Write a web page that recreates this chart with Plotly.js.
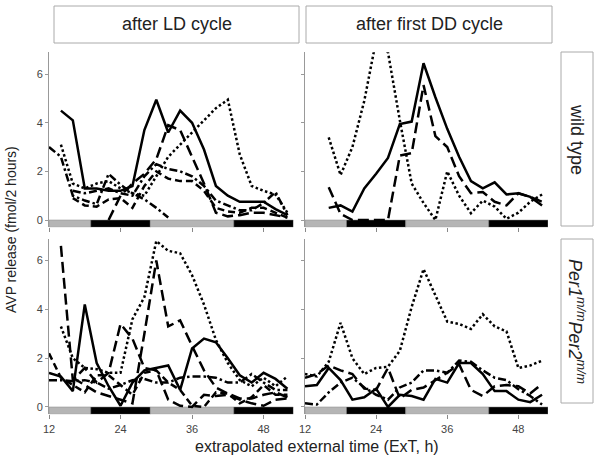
<!DOCTYPE html>
<html><head><meta charset="utf-8">
<script src="https://cdn.plot.ly/plotly-3.0.1.min.js"></script>
<style>html,body{margin:0;padding:0;background:#fff}#chart{width:600px;height:459px}</style>
</head><body><div id="chart"></div>
<script>
// Sampling times (ExT, h)
const hours = [12,14,16,18,20,22,24,26,28,30,32,34,36,38,40,42,44,46,48,50,52];
const xTicks = [12,24,36,48];
const yTicks = [0,2,4,6];
const colTitles = ['after LD cycle','after first DD cycle'];
const rowTitles = ['wild type','<i>Per1</i><sup><i>m/m</i></sup><i>Per2</i><sup><i>m/m</i></sup>'];
const yTitle = 'AVP release (fmol/2 hours)';
const xTitle = 'extrapolated external time (ExT, h)';

// Light/dark bars
const phaseStart = [12,19,29,43];
const phaseEnd   = [19,29,43,53];
const phaseType  = ['light','dark','light','dark'];

// wild type, after LD cycle
const wtLD_solid    = [null,4.5,4.1,1.3,1.3,1.2,1.2,1.4,3.7,4.95,3.6,4.5,4.0,2.9,1.4,1.0,0.75,0.75,0.75,0.45,0.2];
const wtLD_dot      = [null,3.1,1.5,1.3,1.5,1.6,1.3,1.1,1.0,1.8,2.6,3.1,3.6,4.1,4.6,4.95,2.7,1.4,1.2,1.05,0.3];
const wtLD_longdash = [null,null,null,null,null,0.0,1.0,1.5,1.9,2.5,3.9,3.7,2.6,1.5,0.3,0.15,0.2,0.3,0.3,0.2,0.1];
const wtLD_dash     = [null,null,0.9,0.6,0.55,0.85,0.9,0.5,1.4,2.0,1.7,1.6,1.6,1.2,0.5,0.35,0.3,0.5,0.5,0.3,0.1];
const wtLD_dashdotA = [3.0,2.6,1.0,0.8,0.65,1.9,1.45,1.1,0.85,0.5,0.1,null,null,null,null,null,null,null,null,null,null];
const wtLD_dashdotB = [null,null,1.2,1.1,1.2,1.3,1.1,1.0,1.8,2.3,2.1,2.0,1.8,1.4,0.8,0.6,0.4,0.4,0.7,1.15,0.2];

// wild type, after first DD cycle
const wtDD_solid    = [null,null,0.5,0.6,0.35,1.3,1.9,2.55,3.95,4.05,6.45,5.05,3.75,2.6,1.6,1.3,1.55,1.05,1.1,0.95,0.6];
const wtDD_longdash = [null,null,1.35,0.25,0,0,0,0,2.65,2.75,5.55,3.45,3.0,1.8,1.1,1.15,0.75,0.6,1.1,0.95,0.75];
const wtDD_dot      = [null,null,3.4,1.85,3.0,4.9,7.4,6.9,4.1,1.5,0.7,0.0,2.0,1.0,0.28,0.8,0.55,0.05,0.3,0.75,1.05];

// Per1/Per2 mutant, after LD cycle
const mLD_solid     = [1.4,1.25,0.65,4.2,1.8,0.85,0.05,1.0,1.5,1.6,1.7,0.7,2.4,2.8,2.65,2.0,1.3,1.0,1.4,1.15,0.75];
const mLD_dot       = [null,3.3,2.0,1.6,1.55,1.4,1.4,3.6,4.5,6.8,6.4,6.3,5.4,4.2,2.75,1.8,1.1,0.85,1.2,0.85,1.25];
const mLD_longdashA = [null,6.6,1.1,1.6,1.0,1.4,3.4,2.8,1.6,1.5,0.3,0.05,0.0,0.5,0.45,0.5,0.3,0.15,0.05,0.3,0.35];
const mLD_longdashB = [null,null,1.2,0.9,0.6,0.45,0.3,0.15,3.0,6.0,3.3,3.55,2.5,1.5,0.8,0.55,0.35,0.35,0.5,0.6,0.4];
const mLD_dashdot   = [1.1,1.1,1.05,1.1,1.0,0.75,0.9,1.1,1.15,1.0,1.0,1.2,1.25,1.25,1.2,1.0,1.0,1.35,1.0,0.7,0.7];
const mLD_dash      = [2.2,1.2,0.9,0.6,1.3,1.3,0.9,0.5,1.4,1.5,1.0,0.7,0.05,0.0,0.6,0.55,0.15,0.4,0.9,0.5,0.5];

// Per1/Per2 mutant, after first DD cycle
const mDD_dot       = [1.35,1.25,1.85,3.45,2.0,1.35,1.6,1.65,2.3,4.1,5.65,4.6,3.5,3.4,3.2,3.8,3.3,3.1,1.6,1.7,1.9];
const mDD_solid     = [0.85,0.9,1.6,1.1,0.3,0.4,0.75,0.0,0.5,0.45,0.3,1.15,1.0,1.8,1.8,1.35,0.65,0.65,0.3,0.2,0.5];
const mDD_longdash  = [1.2,1.35,1.7,1.5,1.35,0.75,0.7,1.6,0.35,0.7,0.8,1.1,1.4,1.75,0.7,0.45,0.85,0.9,0.85,0.55,0.95];
const mDD_dashdot   = [0.15,0.1,0.6,1.0,1.2,0.8,0.5,0.3,0.8,1.0,1.5,1.5,1.4,1.9,1.85,1.5,1.2,1.1,0.73,0.45,0.1];

const dashes = {solid:'solid', dot:'2.5px,2.5px', dash:'7px,4px', longdash:'11px,5px', dashdot:'8px,3px,2.5px,3px'};

const panels = [
  {xa:'x',  ya:'y',  series:[[wtLD_dashdotA,'dashdot'],[wtLD_dashdotB,'dashdot'],[wtLD_dash,'dash'],[wtLD_longdash,'longdash'],[wtLD_dot,'dot'],[wtLD_solid,'solid']]},
  {xa:'x2', ya:'y2', series:[[wtDD_dot,'dot'],[wtDD_longdash,'longdash'],[wtDD_solid,'solid']]},
  {xa:'x3', ya:'y3', series:[[mLD_dash,'dash'],[mLD_dashdot,'dashdot'],[mLD_longdashA,'longdash'],[mLD_longdashB,'longdash'],[mLD_dot,'dot'],[mLD_solid,'solid']]},
  {xa:'x4', ya:'y4', series:[[mDD_dashdot,'dashdot'],[mDD_longdash,'longdash'],[mDD_solid,'solid'],[mDD_dot,'dot']]}
];

const traces = [];
const shapes = [];
panels.forEach(p => {
  p.series.forEach(([vals, st]) => {
    traces.push({type:'scatter', mode:'lines', x:hours, y:vals, xaxis:p.xa, yaxis:p.ya,
      line:{color:'#000', width:2.5, dash:dashes[st]}, connectgaps:false, hoverinfo:'skip', showlegend:false});
  });
  phaseStart.forEach((s,i) => {
    shapes.push({type:'rect', xref:p.xa, yref:p.ya, x0:s, x1:phaseEnd[i], y0:-0.3, y1:0, layer:'below',
      fillcolor: phaseType[i]==='light' ? '#b5b5b5' : '#000', line:{color:'#888', width:0.5}});
  });
});

const W=600, H=459;
const px = v => v/W, py = v => 1 - v/H;
// strip boxes
const stripLine = {color:'#aaa', width:1};
shapes.push({type:'rect', xref:'paper', yref:'paper', x0:px(54), x1:px(299), y0:py(43), y1:py(6), line:stripLine, fillcolor:'#fff'});
shapes.push({type:'rect', xref:'paper', yref:'paper', x0:px(306), x1:px(552), y0:py(43), y1:py(6), line:stripLine, fillcolor:'#fff'});
shapes.push({type:'rect', xref:'paper', yref:'paper', x0:px(561), x1:px(593), y0:py(226), y1:py(52), line:stripLine, fillcolor:'#fff'});
shapes.push({type:'rect', xref:'paper', yref:'paper', x0:px(561), x1:px(593), y0:py(403), y1:py(239), line:stripLine, fillcolor:'#fff'});

const fam = 'Liberation Sans, Arial, sans-serif';
const ann = (text, x, y, size, angle) => ({text:text, x:px(x), y:py(y), xref:'paper', yref:'paper', showarrow:false,
  xanchor:'center', yanchor:'middle', textangle:angle||0, font:{family:fam, size:size, color:'#222'}});
const annotations = [
  ann(colTitles[0], 176.5, 24.5, 18),
  ann(colTitles[1], 429, 24.5, 18),
  ann(rowTitles[0], 577, 139, 18, 90),
  ann(rowTitles[1], 577, 321, 18, 90),
  ann(yTitle, 11, 230, 14, -90),
  ann(xTitle, 317, 446, 16)
];

const xBase = {range:[12,53], tickvals:xTicks, ticks:'outside', ticklen:4, tickcolor:'#888', tickwidth:1,
  showline:false, showgrid:false, zeroline:false, tickfont:{family:fam, size:11, color:'#444'}};
const yBase = {range:[-0.3,6.9], tickvals:yTicks, ticks:'outside', ticklen:3, tickcolor:'#999', tickwidth:1,
  showline:true, linecolor:'#999', linewidth:1, showgrid:false, zeroline:false, tickfont:{family:fam, size:11, color:'#444'}};

const xL = [px(49), px(293.4)], xR = [px(305), px(548)];
const yT = [py(227.3), py(52.3)], yB = [py(414.3), py(238.6)];

const layout = {
  width:W, height:H, margin:{l:0,r:0,t:0,b:0}, paper_bgcolor:'#fff', plot_bgcolor:'rgba(0,0,0,0)',
  showlegend:false,
  xaxis: Object.assign({}, xBase, {domain:xL, anchor:'y', showticklabels:false}),
  xaxis2:Object.assign({}, xBase, {domain:xR, anchor:'y2', showticklabels:false}),
  xaxis3:Object.assign({}, xBase, {domain:xL, anchor:'y3', showticklabels:true}),
  xaxis4:Object.assign({}, xBase, {domain:xR, anchor:'y4', showticklabels:true}),
  yaxis: Object.assign({}, yBase, {domain:yT, anchor:'x', showticklabels:true}),
  yaxis2:Object.assign({}, yBase, {domain:yT, anchor:'x2', showticklabels:false}),
  yaxis3:Object.assign({}, yBase, {domain:yB, anchor:'x3', showticklabels:true}),
  yaxis4:Object.assign({}, yBase, {domain:yB, anchor:'x4', showticklabels:false}),
  shapes:shapes, annotations:annotations
};

Plotly.newPlot('chart', traces, layout, {staticPlot:true, displayModeBar:false});
</script>
</body></html>
